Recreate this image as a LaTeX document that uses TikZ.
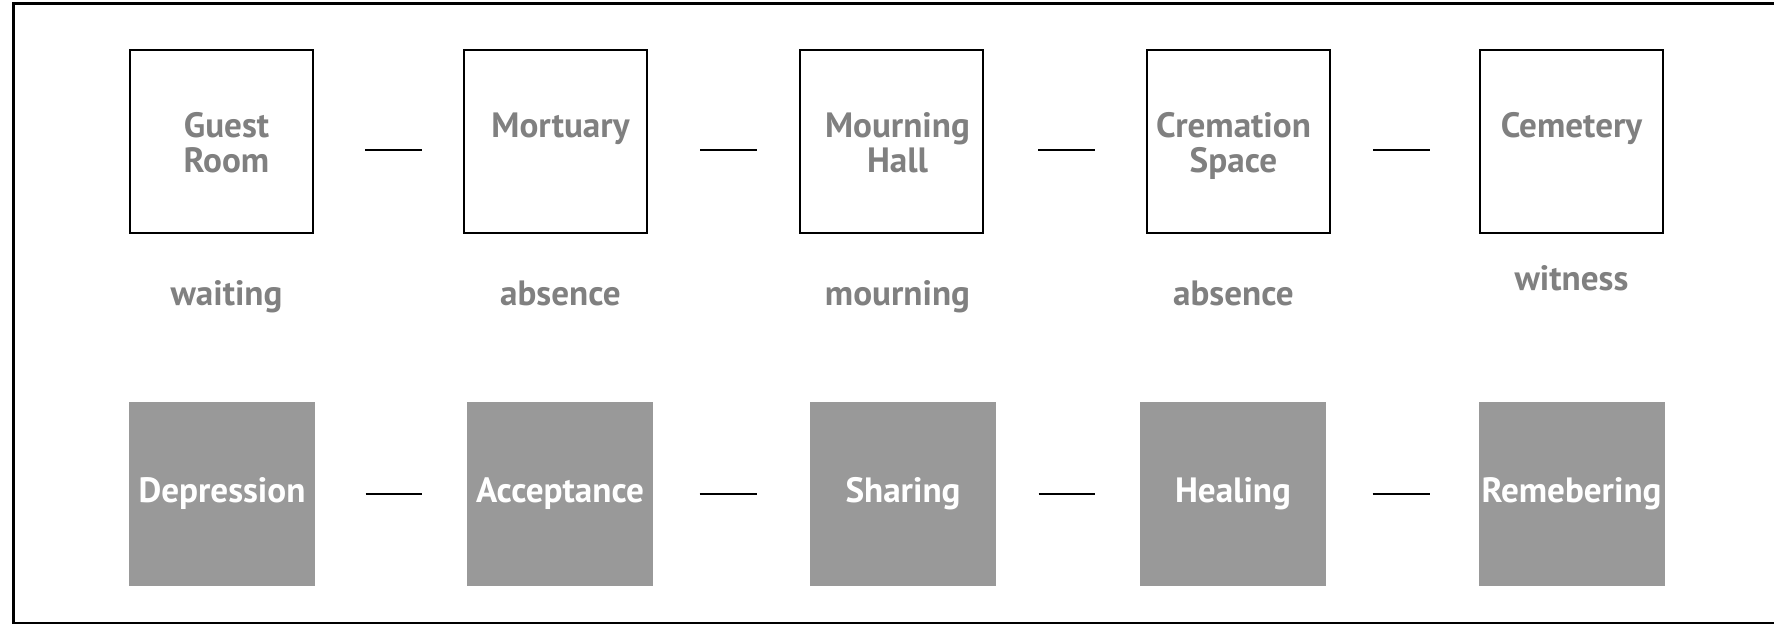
\documentclass[tikz,border=0pt]{standalone}
\usepackage{fontspec}
\setmainfont{PT Sans}
\usepackage{xcolor}
\usepackage{tikz}
\usetikzlibrary{positioning}
\definecolor{labelgray}{HTML}{808080}
\definecolor{stagegray}{HTML}{999999}

\begin{document}
\begin{tikzpicture}[
    room/.style={rectangle, draw=black, line width=0.7pt, fill=white, minimum width=1.83cm, minimum height=1.83cm, inner sep=0pt},
    roomtext/.style={align=center, inner sep=0pt, text=labelgray, font=\fontsize{10}{10}\selectfont\bfseries},
    stage/.style={rectangle, fill=stagegray, minimum width=1.86cm, minimum height=1.84cm, inner sep=0pt, text=white, font=\fontsize{10}{10}\selectfont\bfseries},
    word/.style={anchor=base, inner sep=0pt, text=labelgray, font=\fontsize{10}{10}\selectfont\bfseries},
    link/.style 2 args={line width=0.85pt, black, shorten <=#1, shorten >=#2}
  ]

    \useasboundingbox (0,0) rectangle (17.74,6.26);
    % open frame, runs off the right edge
    \draw[line width=0.75pt] (17.9,6.225) -| (0.135,0.03) -- (17.9,0.03);

    % spaces
    \node[room] (r1) at (2.215,4.845) {};
    \node[room] (r2) at (5.555,4.845) {};
    \node[room] (r3) at (8.915,4.845) {};
    \node[room] (r4) at (12.385,4.845) {};
    \node[room] (r5) at (15.715,4.845) {};

    \node[roomtext, below=0.63cm of r1.north, xshift=0.05cm] (t1) {Guest\\Room};
    \node[roomtext, below=0.63cm of r2.north, xshift=0.05cm] (t2) {Mortuary};
    \node[roomtext, below=0.63cm of r3.north, xshift=0.06cm] (t3) {Mourning\\Hall};
    \node[roomtext, below=0.63cm of r4.north, xshift=-0.05cm] (t4) {Cremation\\Space};
    \node[roomtext, below=0.63cm of r5.north] (t5) {Cemetery};

    \draw[link={0.51cm}{0.41cm}] ([yshift=-0.85mm]r1.east) -- ([yshift=-0.85mm]r2.west);
    \draw[link={0.52cm}{0.42cm}] ([yshift=-0.85mm]r2.east) -- ([yshift=-0.85mm]r3.west);
    \draw[link={0.54cm}{0.51cm}] ([yshift=-0.85mm]r3.east) -- ([yshift=-0.85mm]r4.west);
    \draw[link={0.42cm}{0.49cm}] ([yshift=-0.85mm]r4.east) -- ([yshift=-0.85mm]r5.west);

    % what happens there
    \node[word, xshift=0.05cm] (w1) at ([yshift=-0.71cm]r1.south) {waiting};
    \node[word, xshift=0.05cm] (w2) at ([yshift=-0.71cm]r2.south) {absence};
    \node[word, xshift=0.06cm] (w3) at ([yshift=-0.71cm]r3.south) {mourning};
    \node[word, xshift=-0.05cm] (w4) at ([yshift=-0.71cm]r4.south) {absence};
    \node[word] (w5) at ([yshift=-0.56cm]r5.south) {witness};

    % stages of grief
    \node[stage] (s1) at (2.22,1.32) {Depression};
    \node[stage] (s2) at (5.60,1.32) {Acceptance};
    \node[stage] (s3) at (9.03,1.32) {Sharing};
    \node[stage] (s4) at (12.33,1.32) {Healing};
    \node[stage] (s5) at (15.715,1.32) {Remebering};

    \draw[link={0.50cm}{0.44cm}] (s1) -- (s2);
    \draw[link={0.46cm}{0.52cm}] (s2) -- (s3);
    \draw[link={0.42cm}{0.44cm}] (s3) -- (s4);
    \draw[link={0.46cm}{0.48cm}] (s4) -- (s5);

  \end{tikzpicture}
\end{document}
